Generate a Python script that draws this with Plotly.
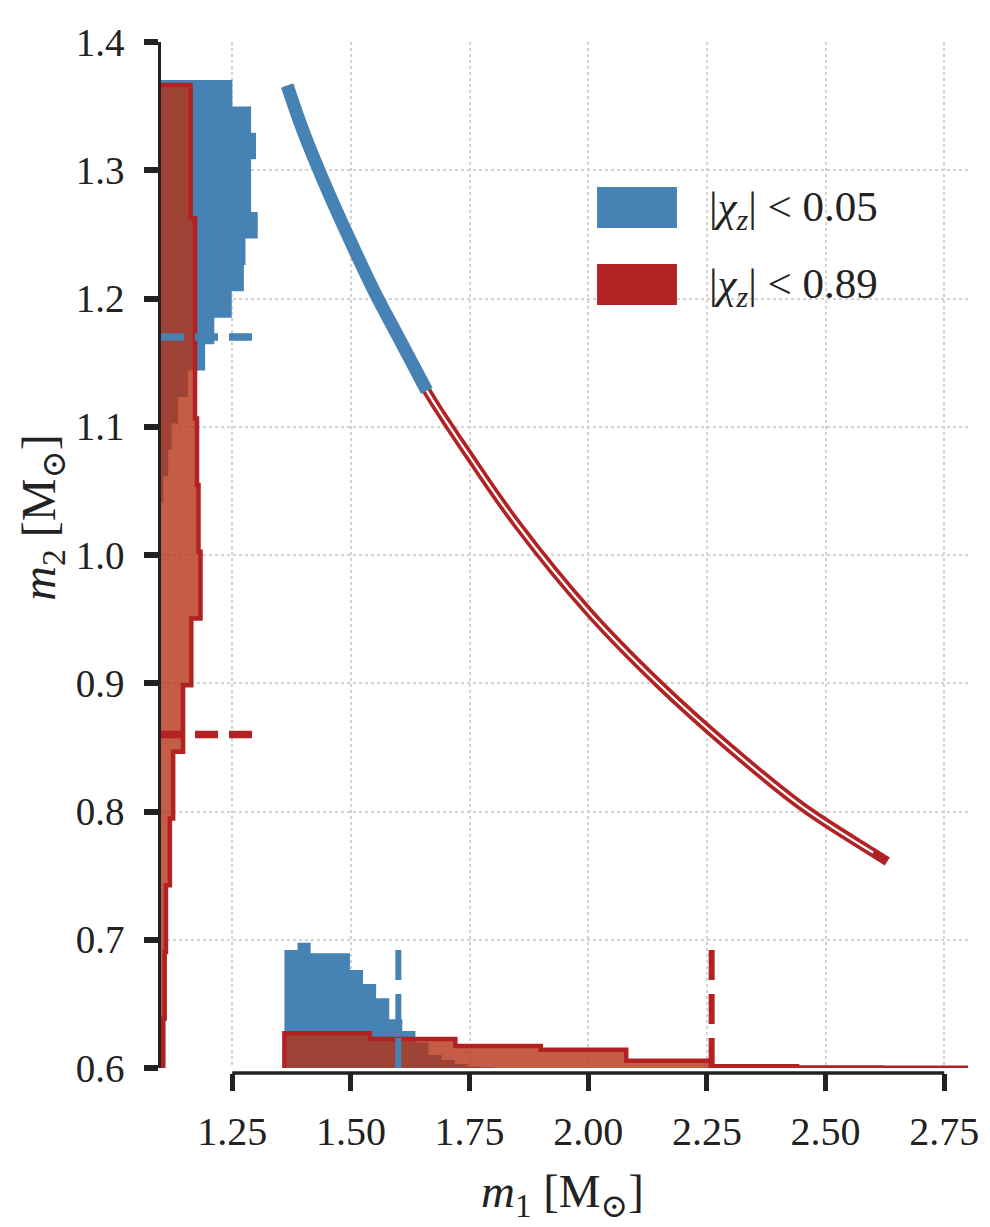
import plotly.graph_objects as go

# ---------------- data ----------------
# constant chirp-mass track in the (m1, m2) plane
curve_m1 = [1.366, 1.40, 1.45, 1.50, 1.55, 1.60, 1.66, 1.75, 1.85, 2.00, 2.15, 2.30, 2.45, 2.60, 2.63]
curve_m2 = [1.366, 1.330, 1.285, 1.244, 1.205, 1.170, 1.128, 1.077, 1.024, 0.956, 0.899, 0.849, 0.804, 0.768, 0.761]
blue_curve_n = 7          # low-spin track covers the first 7 points
white_core_n = 14         # inner white line of the high-spin track

# m1 marginal, low spin (|chi_z| < 0.05)
blue_m1_edges = [1.360, 1.3876, 1.4152, 1.4428, 1.4704, 1.498, 1.5256, 1.5532, 1.5808,
                 1.6084, 1.636, 1.6636, 1.6912, 1.7188, 1.7464, 1.774, 1.8016]
blue_m1_heights = [0.092, 0.0977, 0.0894, 0.0894, 0.0894, 0.0764, 0.0655, 0.0543,
                   0.038, 0.0289, 0.0198, 0.0101, 0.0062, 0.0031, 0.0012, 0.0005]

# m2 marginal, low spin
blue_m2_edges = [1.0408, 1.0614, 1.082, 1.1026, 1.1232, 1.1438, 1.1644, 1.185, 1.2056,
                 1.2262, 1.2468, 1.2674, 1.288, 1.3086, 1.3292, 1.3498, 1.3704]
blue_m2_widths = [0.0048, 0.0152, 0.0222, 0.036, 0.0568, 0.093, 0.1123, 0.149,
                  0.1746, 0.178, 0.2037, 0.1898, 0.1898, 0.2002, 0.1898, 0.1503]

# m1 marginal, high spin (|chi_z| < 0.89)
red_m1_edges = [1.36, 1.54, 1.72, 1.90, 2.08, 2.26, 2.44, 2.62, 2.80]
red_m1_heights = [0.0271, 0.0226, 0.0172, 0.0143, 0.0057, 0.0014, 0.0004, 0.0002]

# m2 marginal, high spin
red_m2_edges = [0.5865, 0.6385, 0.6905, 0.7425, 0.7945, 0.8465, 0.8985, 0.9505,
                1.0025, 1.0545, 1.1065, 1.1585, 1.2105, 1.2625, 1.3145, 1.3665]
red_m2_widths = [0.0048, 0.0077, 0.0104, 0.0187, 0.0256, 0.0464, 0.0638, 0.0832,
                 0.079, 0.0759, 0.0717, 0.0717, 0.0717, 0.0624, 0.0624]

# 90 % bounds
blue_m1_limit = [1.60]
red_m1_limit = [2.26]
blue_m2_limit = [1.17]
red_m2_limit = [0.86]

x_ticks = [1.25, 1.50, 1.75, 2.00, 2.25, 2.50, 2.75]
y_ticks = [0.6, 0.7, 0.8, 0.9, 1.0, 1.1, 1.2, 1.3, 1.4]
legend_labels = ["|<i>χ</i><sub><i>z</i></sub>| &lt; 0.05",
                 "|<i>χ</i><sub><i>z</i></sub>| &lt; 0.89"]

# ---------------- style ----------------
X_MIN, X_MAX = 1.1, 2.8
Y_MIN, Y_MAX = 0.6, 1.4
BLUE = "#4682b4"
RED = "#b22222"
RED_FILL = "rgba(181,51,24,0.8)"
FONT = "Liberation Serif, DejaVu Serif, serif"
TXT = "#222222"
MARK_LEN_X = 0.193     # length of the m2 limit markers (in m1 units)
MARK_LEN_Y = 0.092     # length of the m1 limit markers (in m2 units)


def step_poly(edges, values, base):
    xs, ys = [edges[0]], [base]
    for i, v in enumerate(values):
        xs += [edges[i], edges[i + 1]]
        ys += [base + v, base + v]
    xs.append(edges[-1])
    ys.append(base)
    return xs, ys


fig = go.Figure()

# low-spin histograms (opaque)
bx, by = step_poly(blue_m1_edges, blue_m1_heights, Y_MIN)
fig.add_trace(go.Scatter(x=bx, y=by, fill="toself", fillcolor=BLUE, mode="lines",
                         line=dict(width=0, color=BLUE), hoverinfo="skip", showlegend=False))
by2, bx2 = step_poly(blue_m2_edges, blue_m2_widths, X_MIN)
fig.add_trace(go.Scatter(x=bx2, y=by2, fill="toself", fillcolor=BLUE, mode="lines",
                         line=dict(width=0, color=BLUE), hoverinfo="skip", showlegend=False))

# high-spin histograms (translucent fill + thick outline)
rx, ry = step_poly(red_m1_edges, red_m1_heights, Y_MIN)
ry2, rx2 = step_poly(red_m2_edges, red_m2_widths, X_MIN)
for xs, ys in [(rx, ry), (rx2, ry2)]:
    fig.add_trace(go.Scatter(x=xs, y=ys, fill="toself", fillcolor=RED_FILL, mode="lines",
                             line=dict(width=0, color=RED_FILL), hoverinfo="skip",
                             showlegend=False))
for xs, ys in [(rx, ry), (rx2, ry2)]:
    fig.add_trace(go.Scatter(x=xs, y=ys, mode="lines", line=dict(width=4.5, color=RED),
                             hoverinfo="skip", showlegend=False))

# chirp-mass tracks
fig.add_trace(go.Scatter(x=curve_m1, y=curve_m2, mode="lines",
                         line=dict(width=9.5, color=RED, shape="spline"),
                         hoverinfo="skip", showlegend=False))
fig.add_trace(go.Scatter(x=curve_m1[:white_core_n], y=curve_m2[:white_core_n], mode="lines",
                         line=dict(width=2.2, color="white", shape="spline"),
                         hoverinfo="skip", showlegend=False))
fig.add_trace(go.Scatter(x=curve_m1[:blue_curve_n], y=curve_m2[:blue_curve_n], mode="lines",
                         line=dict(width=13, color=BLUE, shape="spline"),
                         hoverinfo="skip", showlegend=False))

# 90% limit markers
for v, c in [(blue_m1_limit[0], BLUE), (red_m1_limit[0], RED)]:
    fig.add_trace(go.Scatter(x=[v, v], y=[Y_MIN, Y_MIN + MARK_LEN_Y], mode="lines",
                             line=dict(width=6, color=c, dash="30px,14px"),
                             hoverinfo="skip", showlegend=False))
for v, c in [(blue_m2_limit[0], BLUE), (red_m2_limit[0], RED)]:
    fig.add_trace(go.Scatter(x=[X_MIN, X_MIN + MARK_LEN_X], y=[v, v], mode="lines",
                             line=dict(width=7.5, color=c, dash="23px,11px"),
                             hoverinfo="skip", showlegend=False))

# ---------------- layout ----------------
L, R, T, B = 161, 11, 42, 154
W, H = 990, 1227
PW, PH = W - L - R, H - T - B


def px(x):
    return (x - L) / PW


def py(y):
    return (H - B - y) / PH


shapes = [
    # trimmed, offset bottom spine
    dict(type="line", xref="x", yref="paper", x0=x_ticks[0], x1=x_ticks[-1], y0=0, y1=0,
         line=dict(color=TXT, width=3.5), layer="above"),
]
annotations = []
legend_colors = [BLUE, RED]
legend_rows = [(187, 228), (264, 305)]
for (y0, y1), c, lab in zip(legend_rows, legend_colors, legend_labels):
    shapes.append(dict(type="rect", xref="paper", yref="paper", x0=px(603), x1=px(684),
                       y0=py(y1), y1=py(y0), fillcolor=c, line=dict(width=0), layer="above"))
    annotations.append(dict(xref="paper", yref="paper", x=px(714), y=py((y0 + y1) / 2 + 2),
                            xanchor="left", yanchor="middle", text=lab, showarrow=False,
                            font=dict(family=FONT, size=43, color=TXT)))

annotations.append(dict(xref="paper", yref="paper", x=px(568), y=py(1194), xanchor="center",
                        yanchor="middle", showarrow=False,
                        text="<i>m</i><sub>1</sub> [M<sub>⊙</sub>]",
                        font=dict(family=FONT, size=47, color=TXT)))
annotations.append(dict(xref="paper", yref="paper", x=px(40), y=py(518), xanchor="center",
                        yanchor="middle", showarrow=False, textangle=-90,
                        text="<i>m</i><sub>2</sub> [M<sub>⊙</sub>]",
                        font=dict(family=FONT, size=48, color=TXT)))

fig.update_layout(
    width=W, height=H,
    margin=dict(l=L, r=R, t=T, b=B, pad=0),
    plot_bgcolor="white", paper_bgcolor="white",
    shapes=shapes, annotations=annotations,
    showlegend=False,
    xaxis=dict(range=[X_MIN, X_MAX], anchor="free", position=0,
               tickvals=x_ticks, ticktext=[f"{v:.2f}" for v in x_ticks],
               ticks="outside", ticklen=17, tickwidth=5, tickcolor=TXT,
               showline=False, zeroline=False,
               showgrid=True, gridcolor="#d2d2d2", gridwidth=1.6, griddash="dot",
               tickfont=dict(family=FONT, size=40, color=TXT), ticklabelstandoff=6),
    yaxis=dict(range=[Y_MIN, Y_MAX], domain=[5 / PH, 1], anchor="x",
               tickvals=y_ticks, ticktext=[f"{v:.1f}" for v in y_ticks],
               ticks="outside", ticklen=14, tickwidth=6, tickcolor=TXT,
               showline=True, linecolor=TXT, linewidth=2.5, zeroline=False,
               showgrid=True, gridcolor="#d2d2d2", gridwidth=1.6, griddash="dot",
               tickfont=dict(family=FONT, size=39, color=TXT), ticklabelstandoff=12),
)

fig.write_html("out.html")
